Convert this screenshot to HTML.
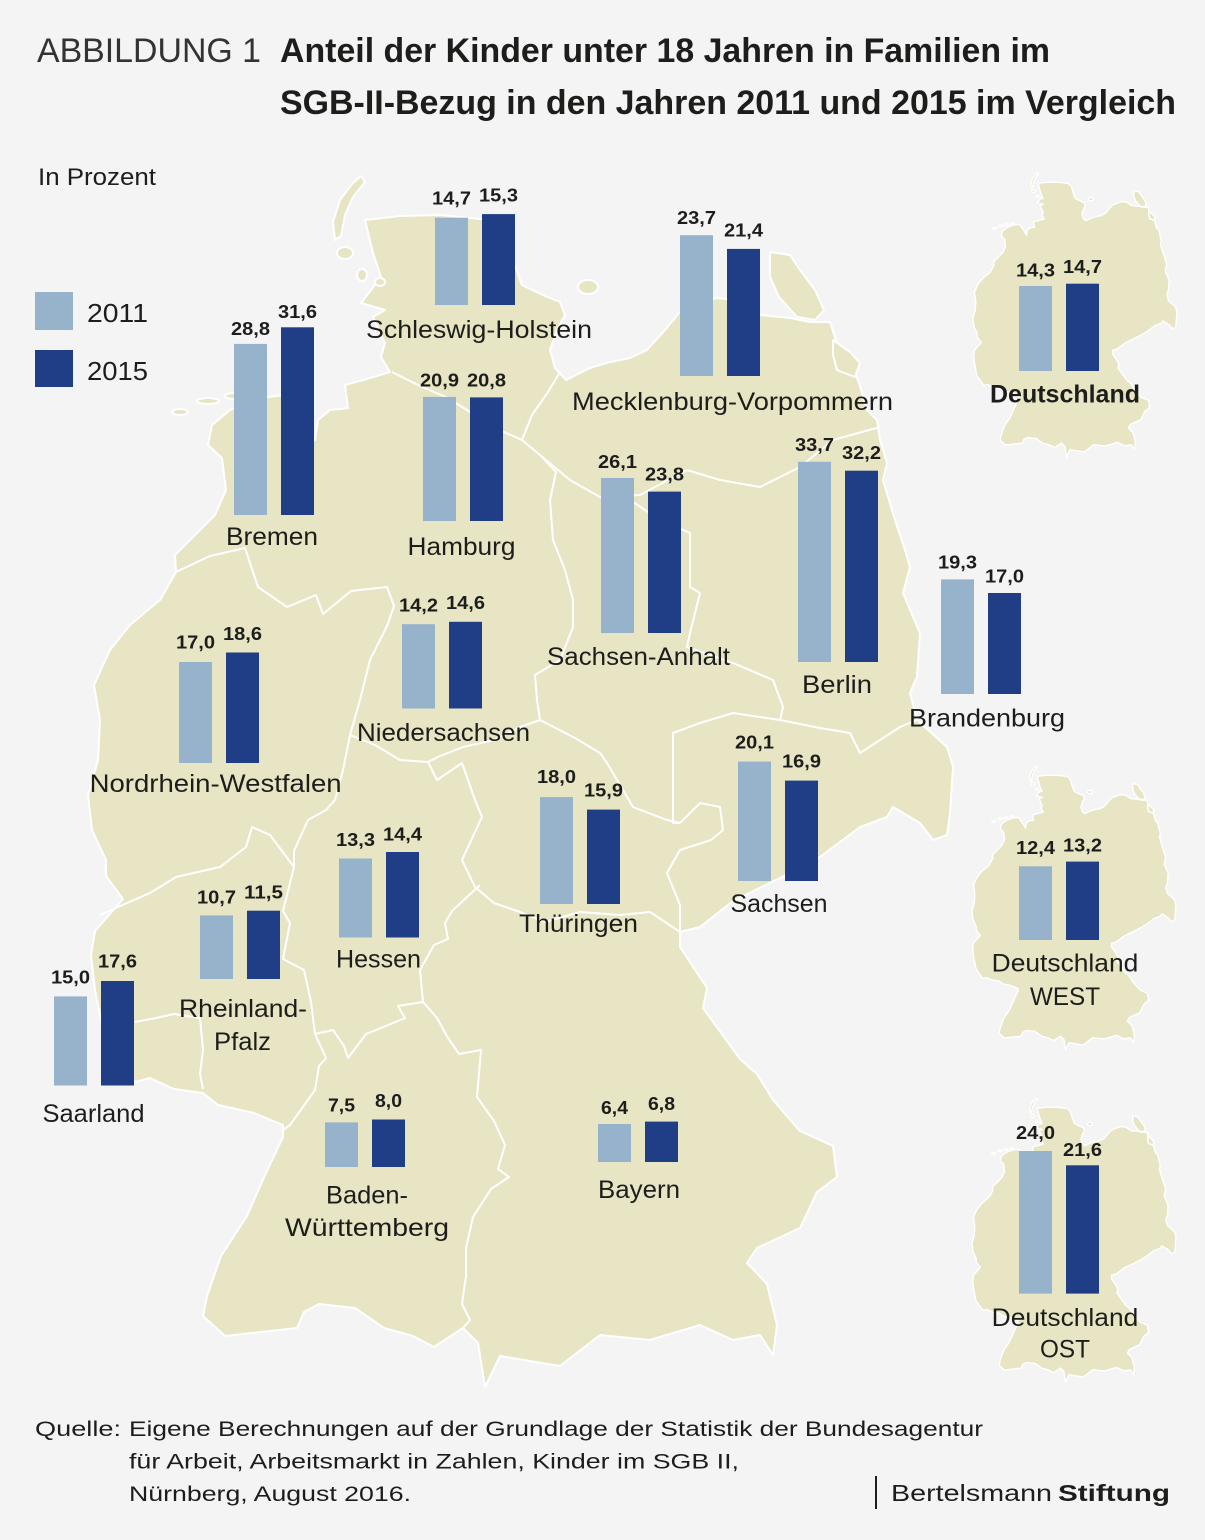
<!DOCTYPE html>
<html><head><meta charset="utf-8"><style>
html,body{margin:0;padding:0;background:#f4f4f4;}
svg{display:block;font-family:"Liberation Sans",Arial,sans-serif;}
.v{font-size:18px;font-weight:bold;fill:#1d1d1b;text-anchor:middle;}
.r{font-size:25px;fill:#1d1d1b;}
.s{font-size:21px;fill:#1d1d1b;}
.l{fill:#97b2cb;}
.d{fill:#1f3e85;}
.b{fill:none;stroke:#fff;stroke-width:2;stroke-linejoin:round;}
</style></head><body>
<svg width="1205" height="1540" viewBox="0 0 1205 1540" xmlns="http://www.w3.org/2000/svg">
<rect width="1205" height="1540" fill="#f4f4f4"/>
<defs>
<g id="de">
<path d="M365,220 L400,216 L440,215 L490,220 L505,232 L512,258 L522,285 L545,296 L560,302 L565,315 L557,330 L550,350 L555,368 L566,380 L590,368 L606,363 L630,358 L647,350 L665,330 L679,313 L700,305 L716,298 L740,300 L761,315 L790,318 L810,322 L830,322 L836,340 L850,360 L859,383 L867,410 L877,420 L880,440 L887,463 L883,480 L895,520 L905,550 L910,567 L903,593 L913,617 L920,633 L917,677 L910,693 L917,720 L947,747 L953,767 L950,814 L947,835 L933,840 L920,823 L893,807 L887,817 L860,827 L820,857 L780,878 L733,901 L700,927 L680,932 L680,947 L707,988 L703,1008 L740,1059 L757,1074 L773,1100 L800,1131 L833,1146 L837,1177 L817,1192 L800,1228 L757,1248 L747,1263 L767,1284 L777,1325 L773,1355 L760,1335 L733,1340 L700,1325 L650,1340 L600,1335 L560,1366 L500,1356 L485,1387 L478,1343 L463,1328 L434,1347 L413,1336 L384,1328 L355,1308 L319,1304 L304,1312 L297,1328 L261,1332 L225,1336 L203,1316 L207,1296 L221,1256 L247,1216 L265,1175 L283,1137 L283,1125 L254,1113 L218,1105 L203,1093 L174,1089 L150,1078 L135,1082 L125,1070 L105,1040 L95,990 L91,955 L95,931 L123,899 L106,876 L106,860 L92,830 L88,795 L98,760 L100,720 L94,685 L110,650 L130,625 L160,600 L176,572 L175,555 L190,540 L215,515 L226,490 L222,458 L208,445 L212,425 L230,410 L260,398 L285,395 L300,415 L315,440 L318,420 L330,410 L348,408 L345,385 L370,378 L390,372 L381,357 L385,343 L373,317 L385,310 L361,303 L381,277 L373,253 Z"/>
<path d="M361,176 L365,182 L353,197 L345,215 L341,236 L335,240 L333,222 L340,200 L352,184 Z"/>
<ellipse cx="345" cy="253" rx="8" ry="6"/>
<ellipse cx="362" cy="275" rx="5" ry="6"/>
<ellipse cx="380" cy="282" rx="5" ry="4"/>
<ellipse cx="180" cy="412" rx="8" ry="3"/>
<ellipse cx="208" cy="401" rx="11" ry="3"/>
<ellipse cx="233" cy="396" rx="8" ry="3"/>
<ellipse cx="258" cy="392" rx="6" ry="3"/>
<ellipse cx="588" cy="287" rx="10" ry="7"/>
<path d="M770,252 L790,255 L800,270 L815,290 L824,310 L815,320 L797,317 L779,297 L770,277 Z"/>
<path d="M833,340 L850,352 L860,363 L855,377 L837,370 L833,355 Z"/>
</g>
</defs>

<!-- main map -->
<use href="#de" fill="#e7e5c4" stroke="#ffffff" stroke-width="2" stroke-linejoin="round"/>
<!-- internal borders -->
<path class="b" d="M392,372 L420,386 L448,398 L470,412 L495,428 L522,440"/>
<path class="b" d="M560,372 L548,392 L532,415 L522,440"/>
<path class="b" d="M522,440 L540,455 L556,472 L550,500 L553,540 L565,570 L573,600 L573,627 L560,660 L535,675 L537,700 L540,720"/>
<path class="b" d="M540,455 L570,480 L600,497 L640,495 L687,470 L720,480 L760,487 L800,467 L833,440 L880,427"/>
<path class="b" d="M600,497 L633,502 L660,520 L690,533 L690,587 L700,593 L690,633 L687,647 L733,663 L773,680 L783,707 L780,720"/>
<path class="b" d="M780,720 L820,728 L850,733 L860,753 L880,740 L900,727 L917,720"/>
<path class="b" d="M540,720 L575,738 L600,753 L607,763 L633,807 L667,820 L680,823"/>
<path class="b" d="M780,720 L733,713 L700,723 L673,733 L673,767 L673,823 L680,823"/>
<path class="b" d="M680,823 L700,803 L720,807 L723,830 L711,840 L680,850 L667,873 L680,905 L680,932"/>
<path class="b" d="M540,720 L520,727 L494,740 L463,747 L440,756 L428,762 L400,760 L375,745 L350,735"/>
<path class="b" d="M176,572 L210,556 L245,548 L258,587 L287,607 L316,595 L323,614 L351,591 L387,587 L394,606 L387,626 L370,660 L360,700 L350,735"/>
<path class="b" d="M350,735 L343,770 L335,800 L326,810 L308,820 L294,851 L294,867"/>
<path class="b" d="M294,867 L270,835 L252,827 L246,847 L220,867 L176,877 L150,893 L118,907 L100,915"/>
<path class="b" d="M428,762 L437,780 L462,763 L475,800 L482,817 L462,860 L475,887 L494,903"/>
<path class="b" d="M494,903 L520,912 L545,922 L580,912 L620,915 L650,912 L680,932"/>
<path class="b" d="M480,885 L452,911 L445,923 L448,939 L434,945 L420,970 L423,1002"/>
<path class="b" d="M294,867 L283,911 L290,923 L283,959 L304,970 L311,1002 L315,1034"/>
<path class="b" d="M315,1034 L333,1030 L344,1046 L348,1058 L366,1034 L376,1030 L405,1018 L398,1006 L423,1002"/>
<path class="b" d="M315,1034 L326,1058 L319,1066 L315,1090 L290,1125 L283,1130"/>
<path class="b" d="M423,1002 L437,1018 L448,1038 L459,1054 L481,1050 L477,1097 L494,1121 L505,1145 L498,1169 L509,1177 L491,1189 L473,1217 L466,1248 L466,1276 L462,1304 L470,1320 L463,1328"/>
<path class="b" d="M135,1022 L156,1018 L174,1014 L200,1018 L203,1050 L200,1074 L203,1089"/>

<!-- small maps -->
<use href="#de" fill="#e7e5c4" stroke="#ffffff" stroke-width="6" transform="matrix(0.2358,0,0,0.2345,952.2,131.7)"/>
<use href="#de" fill="#e7e5c4" stroke="#ffffff" stroke-width="6" transform="matrix(0.2358,0,0,0.2345,951.2,724.7)"/>
<use href="#de" fill="#e7e5c4" stroke="#ffffff" stroke-width="6" transform="matrix(0.2358,0,0,0.2345,951.2,1056.7)"/>

<!-- title -->
<text x="37" y="62" font-size="34" fill="#333" textLength="224" lengthAdjust="spacingAndGlyphs">ABBILDUNG 1</text>
<text x="280" y="62" font-size="34" font-weight="bold" fill="#1d1d1b" textLength="770" lengthAdjust="spacingAndGlyphs">Anteil der Kinder unter 18 Jahren in Familien im</text>
<text x="280" y="114" font-size="34" font-weight="bold" fill="#1d1d1b" textLength="896" lengthAdjust="spacingAndGlyphs">SGB-II-Bezug in den Jahren 2011 und 2015 im Vergleich</text>

<text x="38" y="185" font-size="24" fill="#1d1d1b" textLength="118" lengthAdjust="spacingAndGlyphs">In Prozent</text>

<!-- legend -->
<rect x="35" y="292" width="38" height="38" class="l"/>
<rect x="35" y="350" width="38" height="37" class="d"/>
<text x="87" y="322" font-size="26" fill="#1d1d1b" textLength="61" lengthAdjust="spacingAndGlyphs">2011</text>
<text x="87" y="380" font-size="26" fill="#1d1d1b" textLength="61" lengthAdjust="spacingAndGlyphs">2015</text>

<!-- bars: height = v*5.94 -->
<!-- Schleswig-Holstein -->
<rect class="l" x="435" y="217.7" width="33" height="87.3"/>
<rect class="d" x="482" y="214.1" width="33" height="90.9"/>
<text class="v" x="451.5" y="204.3" textLength="39" lengthAdjust="spacingAndGlyphs">14,7</text>
<text class="v" x="498.5" y="201.5" textLength="39" lengthAdjust="spacingAndGlyphs">15,3</text>
<text class="r" x="366" y="338" textLength="226" lengthAdjust="spacingAndGlyphs">Schleswig-Holstein</text>
<!-- MV -->
<rect class="l" x="680" y="235.2" width="33" height="140.8"/>
<rect class="d" x="727" y="248.9" width="33" height="127.1"/>
<text class="v" x="696.5" y="224.2" textLength="39" lengthAdjust="spacingAndGlyphs">23,7</text>
<text class="v" x="743.5" y="236.5" textLength="39" lengthAdjust="spacingAndGlyphs">21,4</text>
<text class="r" x="572" y="410" textLength="321" lengthAdjust="spacingAndGlyphs">Mecklenburg-Vorpommern</text>
<!-- Bremen -->
<rect class="l" x="234" y="343.9" width="33" height="171.1"/>
<rect class="d" x="281" y="327.3" width="33" height="187.7"/>
<text class="v" x="250.5" y="335.2" textLength="39" lengthAdjust="spacingAndGlyphs">28,8</text>
<text class="v" x="297.5" y="318.2" textLength="39" lengthAdjust="spacingAndGlyphs">31,6</text>
<text class="r" x="226" y="545" textLength="92" lengthAdjust="spacingAndGlyphs">Bremen</text>
<!-- Hamburg -->
<rect class="l" x="423" y="396.9" width="33" height="124.1"/>
<rect class="d" x="470" y="397.4" width="33" height="123.6"/>
<text class="v" x="439.5" y="386.5" textLength="39" lengthAdjust="spacingAndGlyphs">20,9</text>
<text class="v" x="486.5" y="386.5" textLength="39" lengthAdjust="spacingAndGlyphs">20,8</text>
<text class="r" x="407.5" y="555" textLength="108" lengthAdjust="spacingAndGlyphs">Hamburg</text>
<!-- Sachsen-Anhalt -->
<rect class="l" x="601" y="478" width="33" height="155"/>
<rect class="d" x="648" y="491.6" width="33" height="141.4"/>
<text class="v" x="617.5" y="468.2" textLength="39" lengthAdjust="spacingAndGlyphs">26,1</text>
<text class="v" x="664.5" y="480.5" textLength="39" lengthAdjust="spacingAndGlyphs">23,8</text>
<text class="r" x="547" y="665" textLength="183" lengthAdjust="spacingAndGlyphs">Sachsen-Anhalt</text>
<!-- Berlin -->
<rect class="l" x="798" y="461.8" width="33" height="200.2"/>
<rect class="d" x="845" y="470.7" width="33" height="191.3"/>
<text class="v" x="814.5" y="450.8" textLength="39" lengthAdjust="spacingAndGlyphs">33,7</text>
<text class="v" x="861.5" y="459.2" textLength="39" lengthAdjust="spacingAndGlyphs">32,2</text>
<text class="r" x="802" y="693" textLength="70" lengthAdjust="spacingAndGlyphs">Berlin</text>
<!-- Brandenburg -->
<rect class="l" x="941" y="579.4" width="33" height="114.6"/>
<rect class="d" x="988" y="593" width="33" height="101"/>
<text class="v" x="957.5" y="568.5" textLength="39" lengthAdjust="spacingAndGlyphs">19,3</text>
<text class="v" x="1004.5" y="582.5" textLength="39" lengthAdjust="spacingAndGlyphs">17,0</text>
<text class="r" x="909" y="726.5" textLength="156" lengthAdjust="spacingAndGlyphs">Brandenburg</text>
<!-- Niedersachsen -->
<rect class="l" x="402" y="624.2" width="33" height="84.3"/>
<rect class="d" x="449" y="621.8" width="33" height="86.7"/>
<text class="v" x="418.5" y="611.5" textLength="39" lengthAdjust="spacingAndGlyphs">14,2</text>
<text class="v" x="465.5" y="609" textLength="39" lengthAdjust="spacingAndGlyphs">14,6</text>
<text class="r" x="357" y="741" textLength="173" lengthAdjust="spacingAndGlyphs">Niedersachsen</text>
<!-- NRW -->
<rect class="l" x="179" y="662" width="33" height="101"/>
<rect class="d" x="226" y="652.5" width="33" height="110.5"/>
<text class="v" x="195.5" y="648.5" textLength="39" lengthAdjust="spacingAndGlyphs">17,0</text>
<text class="v" x="242.5" y="640" textLength="39" lengthAdjust="spacingAndGlyphs">18,6</text>
<text class="r" x="89.6" y="792" textLength="252" lengthAdjust="spacingAndGlyphs">Nordrhein-Westfalen</text>
<!-- Thüringen -->
<rect class="l" x="540" y="797.1" width="33" height="106.9"/>
<rect class="d" x="587" y="809.6" width="33" height="94.4"/>
<text class="v" x="556.5" y="783.2" textLength="39" lengthAdjust="spacingAndGlyphs">18,0</text>
<text class="v" x="603.5" y="796.5" textLength="39" lengthAdjust="spacingAndGlyphs">15,9</text>
<text class="r" x="519" y="932" textLength="119" lengthAdjust="spacingAndGlyphs">Thüringen</text>
<!-- Sachsen -->
<rect class="l" x="738" y="761.6" width="33" height="119.4"/>
<rect class="d" x="785" y="780.6" width="33" height="100.4"/>
<text class="v" x="754.5" y="748.5" textLength="39" lengthAdjust="spacingAndGlyphs">20,1</text>
<text class="v" x="801.5" y="767.5" textLength="39" lengthAdjust="spacingAndGlyphs">16,9</text>
<text class="r" x="730.5" y="912" textLength="97" lengthAdjust="spacingAndGlyphs">Sachsen</text>
<!-- Hessen -->
<rect class="l" x="339" y="858.5" width="33" height="79"/>
<rect class="d" x="386" y="852" width="33" height="85.5"/>
<text class="v" x="355.5" y="846" textLength="39" lengthAdjust="spacingAndGlyphs">13,3</text>
<text class="v" x="402.5" y="840.5" textLength="39" lengthAdjust="spacingAndGlyphs">14,4</text>
<text class="r" x="336" y="967.5" textLength="85" lengthAdjust="spacingAndGlyphs">Hessen</text>
<!-- Rheinland-Pfalz -->
<rect class="l" x="200" y="915.4" width="33" height="63.6"/>
<rect class="d" x="247" y="910.7" width="33" height="68.3"/>
<text class="v" x="216.5" y="903.5" textLength="39" lengthAdjust="spacingAndGlyphs">10,7</text>
<text class="v" x="263.5" y="898.5" textLength="39" lengthAdjust="spacingAndGlyphs">11,5</text>
<text class="r" x="179" y="1017" textLength="128" lengthAdjust="spacingAndGlyphs">Rheinland-</text>
<text class="r" x="214" y="1050" textLength="57" lengthAdjust="spacingAndGlyphs">Pfalz</text>
<!-- Saarland -->
<rect class="l" x="54" y="996.4" width="33" height="89.1"/>
<rect class="d" x="101" y="981" width="33" height="104.5"/>
<text class="v" x="70.5" y="983.5" textLength="39" lengthAdjust="spacingAndGlyphs">15,0</text>
<text class="v" x="117.5" y="967.5" textLength="39" lengthAdjust="spacingAndGlyphs">17,6</text>
<text class="r" x="42.5" y="1122" textLength="102" lengthAdjust="spacingAndGlyphs">Saarland</text>
<!-- BW -->
<rect class="l" x="325" y="1122.4" width="33" height="44.6"/>
<rect class="d" x="372" y="1119.5" width="33" height="47.5"/>
<text class="v" x="341.5" y="1111.5" textLength="27" lengthAdjust="spacingAndGlyphs">7,5</text>
<text class="v" x="388.5" y="1107" textLength="27" lengthAdjust="spacingAndGlyphs">8,0</text>
<text class="r" x="326" y="1203.5" textLength="82" lengthAdjust="spacingAndGlyphs">Baden-</text>
<text class="r" x="285" y="1236" textLength="164" lengthAdjust="spacingAndGlyphs">Württemberg</text>
<!-- Bayern -->
<rect class="l" x="598" y="1124" width="33" height="38"/>
<rect class="d" x="645" y="1121.6" width="33" height="40.4"/>
<text class="v" x="614.5" y="1114" textLength="27" lengthAdjust="spacingAndGlyphs">6,4</text>
<text class="v" x="661.5" y="1110" textLength="27" lengthAdjust="spacingAndGlyphs">6,8</text>
<text class="r" x="598" y="1198" textLength="82" lengthAdjust="spacingAndGlyphs">Bayern</text>

<!-- Deutschland -->
<rect class="l" x="1019" y="286" width="33" height="85"/>
<rect class="d" x="1066" y="283.7" width="33" height="87.3"/>
<text class="v" x="1035.5" y="276.5" textLength="39" lengthAdjust="spacingAndGlyphs">14,3</text>
<text class="v" x="1082.5" y="273.2" textLength="39" lengthAdjust="spacingAndGlyphs">14,7</text>
<text class="r" x="990" y="402.5" font-weight="bold" textLength="150" lengthAdjust="spacingAndGlyphs">Deutschland</text>
<!-- WEST -->
<rect class="l" x="1019" y="866.3" width="33" height="73.7"/>
<rect class="d" x="1066" y="861.6" width="33" height="78.4"/>
<text class="v" x="1035.5" y="854.2" textLength="39" lengthAdjust="spacingAndGlyphs">12,4</text>
<text class="v" x="1082.5" y="851.5" textLength="39" lengthAdjust="spacingAndGlyphs">13,2</text>
<text class="r" x="991.7" y="971.5" textLength="146.6" lengthAdjust="spacingAndGlyphs">Deutschland</text>
<text class="r" x="1030" y="1005" textLength="70" lengthAdjust="spacingAndGlyphs">WEST</text>
<!-- OST -->
<rect class="l" x="1019" y="1151" width="33" height="142.6"/>
<rect class="d" x="1066" y="1165.3" width="33" height="128.3"/>
<text class="v" x="1035.5" y="1138.8" textLength="39" lengthAdjust="spacingAndGlyphs">24,0</text>
<text class="v" x="1082.5" y="1155.8" textLength="39" lengthAdjust="spacingAndGlyphs">21,6</text>
<text class="r" x="991.7" y="1326" textLength="146.6" lengthAdjust="spacingAndGlyphs">Deutschland</text>
<text class="r" x="1040" y="1357.5" textLength="50" lengthAdjust="spacingAndGlyphs">OST</text>

<!-- source -->
<text class="s" x="35" y="1436" textLength="86" lengthAdjust="spacingAndGlyphs">Quelle:</text>
<text class="s" x="129" y="1436" textLength="854" lengthAdjust="spacingAndGlyphs">Eigene Berechnungen auf der Grundlage der Statistik der Bundesagentur</text>
<text class="s" x="129" y="1468.5" textLength="610" lengthAdjust="spacingAndGlyphs">für Arbeit, Arbeitsmarkt in Zahlen, Kinder im SGB II,</text>
<text class="s" x="129" y="1501" textLength="282" lengthAdjust="spacingAndGlyphs">Nürnberg, August 2016.</text>

<!-- logo -->
<rect x="875" y="1476" width="2" height="33" fill="#1d1d1b"/>
<text x="891" y="1501" font-size="23" fill="#1d1d1b" textLength="161" lengthAdjust="spacingAndGlyphs">Bertelsmann</text>
<text x="1058" y="1501" font-size="23" font-weight="bold" fill="#1d1d1b" textLength="112" lengthAdjust="spacingAndGlyphs">Stiftung</text>
</svg>
</body></html>
